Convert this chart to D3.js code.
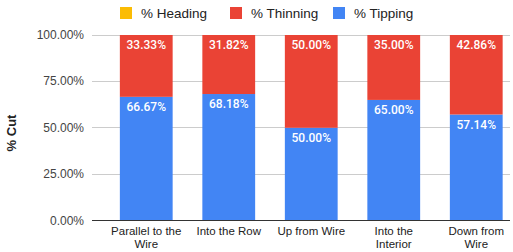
<!DOCTYPE html>
<html><head><meta charset="utf-8">
<script src="https://cdn.jsdelivr.net/npm/d3@7"></script>
<style>body{margin:0;background:#fff}svg{display:block;font-family:"Liberation Sans",Arial,sans-serif}</style>
</head><body><svg id="c" width="513" height="252"></svg>
<script>
const categories = ["Parallel to the Wire","Into the Row","Up from Wire","Into the Interior","Down from Wire"];
const heading = [0,0,0,0,0];
const thinning = [33.33,31.82,50.00,35.00,42.86];
const tipping = [66.67,68.18,50.00,65.00,57.14];
const yTicks = [0,25,50,75,100];
const seriesNames = ["% Heading","% Thinning","% Tipping"];
const colors = ["#fbbc04","#ea4335","#4285f4"];

const svg = d3.select("#c");
const x = d3.scaleBand().domain(categories).range([105,517.5]).paddingInner(0.36).paddingOuter(0.18);
const y = d3.scaleLinear().domain([0,100]).range([220.5,35]);

// grid
svg.append("g").selectAll("line").data(yTicks).join("line")
  .attr("x1",92).attr("x2",510).attr("y1",d=>y(d)).attr("y2",d=>y(d))
  .attr("stroke","#cccccc").attr("stroke-width",1).attr("shape-rendering","crispEdges");
svg.append("g").selectAll("text").data(yTicks).join("text")
  .attr("x",84).attr("y",d=>y(d)+4).attr("text-anchor","end")
  .attr("font-size",12).attr("fill","#444").text(d=>d.toFixed(2)+"%");

// stacked bars
const rows = categories.map((c,i)=>({cat:c, tip:tipping[i], thin:thinning[i], head:heading[i]}));
const stack = d3.stack().keys(["tip","thin","head"])(rows);
const colorBy = {tip:colors[2], thin:colors[1], head:colors[0]};
stack.forEach(layer=>{
  const g = svg.append("g");
  g.selectAll("rect").data(layer).join("rect")
    .attr("x",d=>x(d.data.cat)).attr("width",x.bandwidth())
    .attr("y",d=>y(d[1])).attr("height",d=>y(d[0])-y(d[1]))
    .attr("fill",colorBy[layer.key]);
  g.selectAll("text").data(layer.filter(d=>d[1]-d[0]>0)).join("text")
    .attr("x",d=>x(d.data.cat)+x.bandwidth()/2).attr("y",d=>y(d[1])+14)
    .attr("text-anchor","middle").attr("font-size",12).attr("font-family","Roboto, sans-serif")
    .attr("font-weight",500).attr("fill","#fff")
    .text(d=>(d[1]-d[0]).toFixed(2)+"%");
});

// baseline
svg.append("line").attr("x1",92).attr("x2",510).attr("y1",y(0)).attr("y2",y(0))
  .attr("stroke","#333").attr("shape-rendering","crispEdges");

// x labels
const xl = svg.append("g");
categories.forEach(c=>{
  const words = c.split(" ");
  const t = xl.append("text").attr("x",x(c)+x.bandwidth()/2).attr("y",234.5)
    .attr("text-anchor","middle").attr("font-size",11.5).attr("fill","#222");
  let lines=[], cur=[];
  const meas = svg.append("text").attr("font-size",11.5);
  words.forEach(w=>{
    const test=[...cur,w].join(" ");
    meas.text(test);
    if(meas.node().getComputedTextLength()>76 && cur.length){lines.push(cur.join(" "));cur=[w];}
    else cur.push(w);
  });
  lines.push(cur.join(" "));
  meas.remove();
  lines.forEach((l,i)=>t.append("tspan").attr("x",x(c)+x.bandwidth()/2).attr("dy",i?13.3:0).text(l));
});

// y title
svg.append("text").attr("transform","translate(15.5,133) rotate(-90)")
  .attr("text-anchor","middle").attr("font-size",13).attr("font-weight","bold").attr("fill","#222").text("% Cut");

// legend
const legX = [120,230,333];
seriesNames.forEach((n,i)=>{
  svg.append("rect").attr("x",legX[i]).attr("y",7).attr("width",12).attr("height",12).attr("fill",colors[i]);
  svg.append("text").attr("x",legX[i]+21).attr("y",18).attr("font-size",13.5).attr("fill","#222").text(n);
});
</script></body></html>
